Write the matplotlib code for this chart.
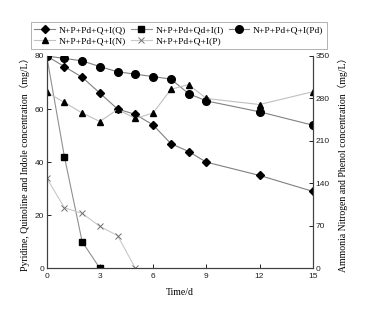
import matplotlib.pyplot as plt

# Time points (days)
days = [0, 1, 2, 3, 4, 5, 6, 7, 8, 9, 12, 15]

# Left axis series (mg/L)
q_vals = [80, 76, 72, 66, 60, 58, 54, 47, 44, 40, 35, 29]
i_days = [0, 1, 2, 3]
i_vals = [80, 42, 10, 0]
p_days = [0, 1, 2, 3, 4, 5]
p_vals = [34, 22.8, 20.7, 15.8, 12.3, 0]

# Right axis series (mg/L)
pd_vals = [350, 346, 342, 332.5, 324, 320, 316, 312, 288, 276, 258, 236]
n_vals = [290, 273.5, 256, 242, 262, 247, 256, 295, 303, 280, 270, 291]

serif = ["Liberation Serif", "Noto Sans CJK SC"]
sans = "Liberation Sans"

fig = plt.figure(figsize=(3.66, 3.18), dpi=100)
ax = fig.add_axes([0.1276, 0.1563, 0.7268, 0.6676])
ax2 = ax.twinx()

l_q, = ax.plot(days, q_vals, color="#808080", lw=0.8, marker="D", ms=4, mfc="black", mec="black",
               label="N+P+Pd+Q+I(Q)")
l_i, = ax.plot(i_days, i_vals, color="#909090", lw=0.8, marker="s", ms=4, mfc="black", mec="black",
               label="N+P+Pd+Qd+I(I)")
l_pd, = ax2.plot(days, pd_vals, color="#808080", lw=0.8, marker="o", ms=5.5, mfc="black", mec="black",
                 label="N+P+Pd+Q+I(Pd)")
l_n, = ax2.plot(days, n_vals, color="#c0c0c0", lw=0.8, marker="^", ms=5, mfc="black", mec="black",
                label="N+P+Pd+Q+I(N)")
l_p, = ax.plot(p_days, p_vals, color="#c8c8c8", lw=0.8, marker="x", ms=4.5, mew=0.7, mec="#707070",
               label="N+P+Pd+Q+I(P)")

ax.set_xlim(0, 15)
ax.set_ylim(0, 80)
ax2.set_ylim(0, 350)
ax.set_xticks([0, 3, 6, 9, 12, 15])
ax.set_yticks([0, 20, 40, 60, 80])
ax2.set_yticks([0, 70, 140, 210, 280, 350])

for a in (ax, ax2):
    a.spines["top"].set_visible(False)
    for s in ("left", "right", "bottom"):
        a.spines[s].set_linewidth(0.8)
        a.spines[s].set_color("#404040")
    a.tick_params(direction="in", length=3, width=0.7, labelsize=6, pad=2, colors="#202020")
    for lab in a.get_xticklabels() + a.get_yticklabels():
        lab.set_family(sans)
ax.tick_params(axis="x", pad=3.5)

ax.set_xlabel("Time/d", fontsize=7, family=serif, labelpad=6)
ax.set_ylabel("Pyridine, Quinoline and Indole concentration（mg/L）", fontsize=7, family=serif, labelpad=3)
ax2.set_ylabel("Ammonia Nitrogen and Phenol concentration（mg/L）", fontsize=7, family=serif,
               rotation=90, labelpad=6)

# column-major fill: row 1 = Q, I, Pd ; row 2 = N, P
order = [l_q, l_n, l_i, l_p, l_pd]
leg = fig.legend(order, [h.get_label() for h in order], loc="upper center", ncol=3,
                 bbox_to_anchor=(0.489, 0.945), prop={"family": serif, "size": 6.8},
                 frameon=True, fancybox=False, handlelength=2.2, handletextpad=0.4,
                 columnspacing=0.5, borderpad=0.35, labelspacing=0.3)
leg.get_frame().set_edgecolor("#909090")
leg.get_frame().set_linewidth(0.6)

fig.savefig("out.png", dpi=100)
